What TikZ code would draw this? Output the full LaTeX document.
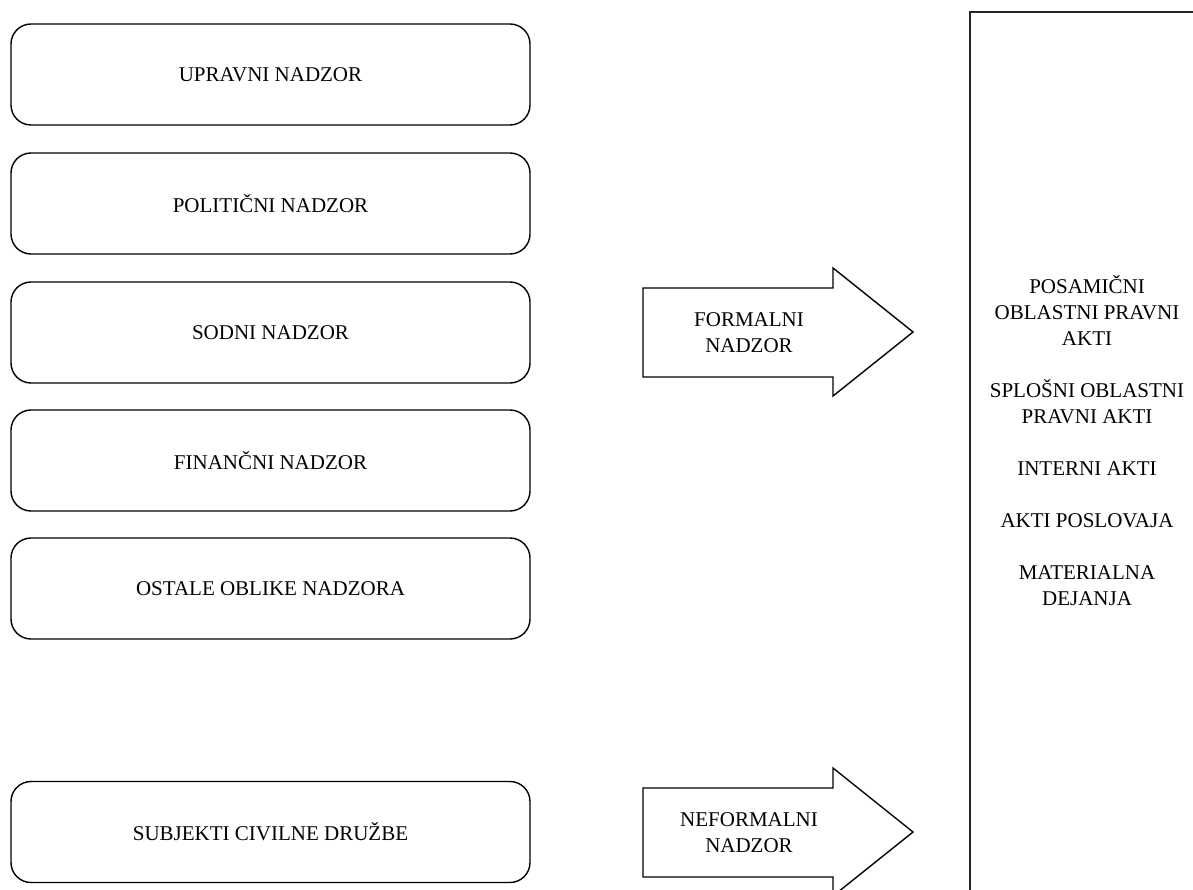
\documentclass[tikz,border=0pt]{standalone}
\usepackage{fontspec}
\setmainfont{Liberation Serif}
\begin{document}
\begin{tikzpicture}[x=1pt,y=-1pt,
  every node/.style={font=\fontsize{21}{26}\selectfont, align=center, inner sep=0pt},
  kind/.style={draw=black, line width=1.4pt, rounded corners=20pt,
               minimum width=519pt, minimum height=101pt},
  bigarrow/.style={draw=black, line width=1.4pt, line join=miter},
  scopebox/.style={draw=black!85, line width=2pt}]
  \clip (0,0) rectangle (1193,890);
  \fill[white] (0,0) rectangle (1193,890);

  % kinds of supervision
  \node[kind] (upravni)   at (270.5,74.5)  {UPRAVNI NADZOR};
  \node[kind] (politicni) at (270.5,203.5) {POLITIČNI NADZOR};
  \node[kind] (sodni)     at (270.5,332.5) {SODNI NADZOR};
  \node[kind] (financni)  at (270.5,460.5) {FINANČNI NADZOR};
  \node[kind] (ostale)    at (270.5,588.5) {OSTALE OBLIKE NADZORA};
  \node[kind] (civilna)   at (270.5,832)   {SUBJEKTI CIVILNE DRUŽBE};

  % block arrows
  \draw[bigarrow] (643,288) -- (833,288) -- (833,268) -- (913,332)
    -- (833,396) -- (833,377) -- (643,377) -- cycle;
  \node (formalni) at (749,333) {FORMALNI\\NADZOR};
  \draw[bigarrow] (643,788) -- (833,788) -- (833,768) -- (913,832)
    -- (833,896) -- (833,877) -- (643,877) -- cycle;
  \node (neformalni) at (749,833) {NEFORMALNI\\NADZOR};

  % supervised acts
  \draw[scopebox] (970,12) rectangle (1210,910);
  \node (akti) at (1087,441) {POSAMIČNI\\OBLASTNI PRAVNI\\AKTI\\[26pt]SPLOŠNI OBLASTNI\\PRAVNI AKTI\\[26pt]INTERNI AKTI\\[26pt]AKTI POSLOVAJA\\[26pt]MATERIALNA\\DEJANJA};
\end{tikzpicture}
\end{document}
